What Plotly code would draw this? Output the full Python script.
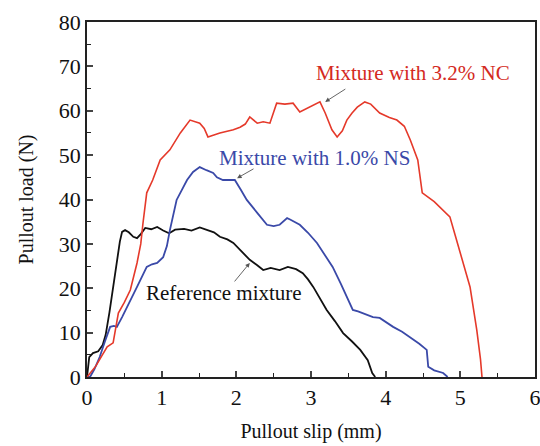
import plotly.graph_objects as go

# Reference mixture (black)
ref_x = [0.0, 0.03, 0.08, 0.15, 0.21, 0.25, 0.30, 0.36, 0.40, 0.44, 0.47, 0.51, 0.56, 0.62, 0.67, 0.72, 0.78, 0.86, 0.94, 1.02, 1.10, 1.18, 1.30, 1.40, 1.51, 1.60, 1.70, 1.78, 1.88, 1.96, 2.06, 2.18, 2.28, 2.36, 2.46, 2.58, 2.69, 2.80, 2.89, 2.96, 3.03, 3.12, 3.21, 3.32, 3.43, 3.55, 3.66, 3.76, 3.82, 3.86]
ref_y = [0.0, 4.5, 5.4, 5.8, 7.2, 9.5, 14.5, 21.0, 26.4, 30.5, 32.7, 33.1, 32.6, 31.6, 31.3, 32.2, 33.6, 33.3, 33.8, 33.0, 32.4, 33.2, 33.4, 33.0, 33.7, 33.2, 32.6, 31.6, 31.0, 30.2, 28.5, 26.4, 25.2, 24.1, 24.6, 24.1, 24.8, 24.3, 23.4, 22.0, 20.3, 17.8, 15.1, 12.6, 9.9, 8.0, 6.1, 3.8, 0.9, 0.0]

# Mixture with 3.2% NC (red)
nc_x = [0.0, 0.04, 0.12, 0.20, 0.27, 0.35, 0.38, 0.42, 0.50, 0.58, 0.67, 0.72, 0.75, 0.80, 0.88, 0.98, 1.11, 1.25, 1.38, 1.45, 1.51, 1.57, 1.62, 1.69, 1.78, 1.96, 2.05, 2.12, 2.18, 2.28, 2.36, 2.45, 2.50, 2.54, 2.65, 2.76, 2.85, 2.99, 3.12, 3.19, 3.24, 3.28, 3.35, 3.42, 3.48, 3.55, 3.62, 3.72, 3.80, 3.92, 4.05, 4.15, 4.25, 4.33, 4.43, 4.49, 4.65, 4.86, 4.93, 5.00, 5.13, 5.22, 5.27, 5.29]
nc_y = [0.0, 0.9, 2.5, 4.8, 6.8, 7.7, 10.5, 14.4, 16.8, 19.6, 25.7, 30.0, 34.7, 41.5, 44.4, 48.9, 51.2, 55.0, 57.9, 57.5, 57.2, 56.0, 54.1, 54.5, 55.0, 55.7, 56.3, 57.0, 58.6, 57.2, 57.5, 57.2, 59.5, 61.7, 61.5, 61.7, 59.7, 60.8, 62.0, 59.5, 57.5, 55.7, 54.1, 55.5, 57.9, 59.5, 60.8, 62.0, 61.5, 59.5, 58.5, 57.9, 56.5, 53.4, 48.9, 41.5, 39.5, 36.1, 32.0, 27.9, 20.3, 10.6, 4.0, 0.0]

# Mixture with 1.0% NS (blue)
ns_x = [0.0, 0.04, 0.10, 0.17, 0.24, 0.31, 0.36, 0.40, 0.47, 0.54, 0.67, 0.80, 0.87, 0.94, 1.02, 1.07, 1.11, 1.20, 1.34, 1.42, 1.51, 1.60, 1.69, 1.74, 1.82, 1.87, 1.98, 2.06, 2.14, 2.28, 2.41, 2.50, 2.58, 2.68, 2.72, 2.85, 2.96, 3.08, 3.18, 3.29, 3.40, 3.48, 3.56, 3.63, 3.70, 3.83, 3.92, 4.10, 4.22, 4.33, 4.45, 4.55, 4.57, 4.65, 4.77, 4.83]
ns_y = [0.0, 0.0, 1.8, 4.5, 8.0, 11.3, 11.5, 11.3, 13.5, 15.8, 20.3, 24.8, 25.4, 25.7, 27.0, 29.5, 33.1, 39.9, 44.4, 46.2, 47.3, 46.6, 46.0, 45.0, 44.4, 44.4, 44.4, 42.2, 39.9, 37.0, 34.3, 34.0, 34.3, 35.8, 35.5, 34.3, 32.5, 30.2, 27.5, 24.8, 21.0, 18.0, 15.1, 14.8, 14.4, 13.5, 13.3, 11.3, 10.2, 9.0, 7.5, 6.1, 2.3, 1.5, 0.9, 0.0]

x_ticks = [0, 1, 2, 3, 4, 5, 6]
y_ticks = [0, 10, 20, 30, 40, 50, 60, 70, 80]

FONT = "Liberation Serif, Times New Roman, serif"

fig = go.Figure()
fig.add_trace(go.Scatter(x=ref_x, y=ref_y, mode="lines", line=dict(color="#111111", width=1.8), name="Reference mixture"))
fig.add_trace(go.Scatter(x=ns_x, y=ns_y, mode="lines", line=dict(color="#3a49a8", width=1.8), name="Mixture with 1.0% NS"))
fig.add_trace(go.Scatter(x=nc_x, y=nc_y, mode="lines", line=dict(color="#e5392a", width=1.6), name="Mixture with 3.2% NC"))

annots = [
    dict(text="Mixture with 3.2% NC", tx=4.37, ty=68.6, color="#d42a22",
         hx=3.19, hy=62.0, axx=3.48, ayy=65.1),
    dict(text="Mixture with 1.0% NS", tx=3.05, ty=49.3, color="#3a49a8",
         hx=2.01, hy=44.8, axx=2.25, ayy=47.1),
    dict(text="Reference mixture", tx=1.84, ty=19.0, color="#111111",
         hx=2.18, hy=25.7, axx=1.96, ayy=21.2),
]
for a in annots:
    fig.add_annotation(x=a["tx"], y=a["ty"], xref="x", yref="y", text=a["text"],
                       showarrow=False, font=dict(family=FONT, size=21, color=a["color"]))
    fig.add_annotation(x=a["hx"], y=a["hy"], ax=a["axx"], ay=a["ayy"], xref="x", yref="y",
                       axref="x", ayref="y", text="", showarrow=True, arrowhead=2,
                       arrowsize=1, arrowwidth=0.9, arrowcolor="#555555")

fig.update_layout(
    width=540, height=446,
    margin=dict(l=87, r=5, t=22, b=69),
    paper_bgcolor="white", plot_bgcolor="white",
    showlegend=False,
    font=dict(family=FONT, size=21, color="#111111"),
)
fig.update_xaxes(
    range=[0, 6], tickvals=x_ticks, ticks="inside", ticklen=6, tickwidth=1.5, automargin=False,
    ticklabeloverflow="allow",
    showline=True, linecolor="#222222", linewidth=1.5, mirror=True, showgrid=False, zeroline=False,
    minor=dict(ticks="inside", dtick=0.5, ticklen=4, tickwidth=1.2, tickcolor="#222222"),
    title=dict(text="Pullout slip (mm)", font=dict(family=FONT, size=20), standoff=15),
    tickfont=dict(family=FONT, size=22),
)
fig.update_yaxes(
    range=[0, 80], tickvals=y_ticks, ticks="inside", ticklen=6, tickwidth=1.5, automargin=False,
    ticklabeloverflow="allow",
    showline=True, linecolor="#222222", linewidth=1.5, mirror=True, showgrid=False, zeroline=False,
    minor=dict(ticks="inside", dtick=5, ticklen=4, tickwidth=1.2, tickcolor="#222222"),
    title=dict(text="Pullout load (N)", font=dict(family=FONT, size=20), standoff=20),
    tickfont=dict(family=FONT, size=22),
)

fig.write_html("out.html", config={"displayModeBar": False},
               post_script="document.body.style.margin='0';document.body.style.padding='0';")
